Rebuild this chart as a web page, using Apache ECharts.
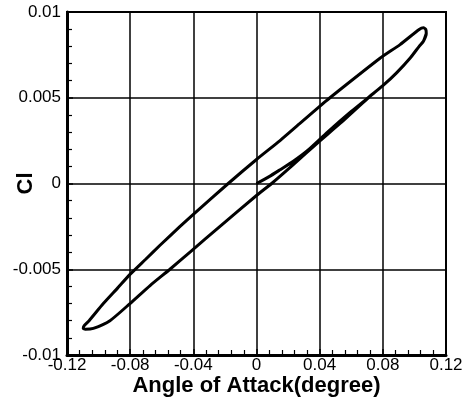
<!DOCTYPE html>
<html><head><meta charset="utf-8">
<script src="https://cdn.jsdelivr.net/npm/echarts@6/dist/echarts.min.js"></script>
<style>html,body{margin:0;padding:0;background:#fff}#c{width:470px;height:399px}</style>
</head><body><div id="c"></div>
<script>
// Tick labels
const xTickLabels = ['-0.12', '-0.08', '-0.04', '0', '0.04', '0.08', '0.12'];
const yTickLabels = ['-0.01', '-0.005', '0', '0.005', '0.01'];

// Transient: starts at origin and merges into lower branch
const transientAlpha = [0.0, 0.008, 0.0149, 0.0233, 0.032, 0.045, 0.060, 0.072, 0.080, 0.0887];
const transientCl    = [0.0, 0.0004, 0.0008, 0.0013, 0.0019, 0.0030, 0.0042, 0.0051, 0.0057, 0.00645];

// Right tip -> upper branch (decreasing alpha) -> left tip
const upperAlpha = [0.0972, 0.1030, 0.1057, 0.1075, 0.1072, 0.1057, 0.1030, 0.0909, 0.0782, 0.0465, 0.040, 0.0275, 0.0149, 0.0, -0.0179, -0.040, -0.0484, -0.0611, -0.0700, -0.0801, -0.0880, -0.0970, -0.1060, -0.1092, -0.1097];
const upperCl    = [0.0073, 0.0080, 0.0083, 0.00875, 0.00898, 0.00908, 0.00898, 0.0081, 0.0073, 0.0050, 0.0045, 0.0035, 0.0025, 0.0014, 0.0000, -0.0018, -0.0025, -0.0036, -0.0044, -0.0053, -0.0061, -0.0070, -0.0080, -0.0083, -0.00845];

// Lower branch (increasing alpha) back to right tip
const lowerAlpha = [-0.1085, -0.1033, -0.0928, -0.0801, -0.0674, -0.0548, -0.0421, -0.0231, 0.0, 0.0096, 0.0233, 0.0391, 0.0529, 0.0708, 0.080, 0.0887, 0.0972, 0.1030, 0.1057, 0.1075];
const lowerCl    = [-0.0085, -0.00845, -0.0080, -0.0070, -0.00595, -0.0050, -0.0040, -0.0025, -0.0007, 0.0, 0.0011, 0.0024, 0.0035, 0.0050, 0.0057, 0.00645, 0.0073, 0.0080, 0.0083, 0.00875];

const pts = [];
transientAlpha.forEach((a, i) => pts.push([a, transientCl[i]]));
upperAlpha.forEach((a, i) => pts.push([a, upperCl[i]]));
lowerAlpha.forEach((a, i) => pts.push([a, lowerCl[i]]));

const font = 'Liberation Sans, Arial, Helvetica, sans-serif';
const chart = echarts.init(document.getElementById('c'), null, {renderer: 'canvas'});
chart.setOption({
  animation: false,
  backgroundColor: '#fff',
  grid: {left: 67, right: 24, top: 12, bottom: 44, containLabel: false, outerBoundsMode: 'none',
         show: true, borderColor: '#000', borderWidth: 2, backgroundColor: 'transparent'},
  xAxis: {
    type: 'value', min: -0.12, max: 0.12, interval: 0.04,
    name: 'Angle of Attack(degree)', nameLocation: 'middle', nameGap: 20, nameMoveOverlap: false,
    nameTextStyle: {fontFamily: font, fontSize: 22, fontWeight: 'bold', color: '#000', verticalAlign: 'top'},
    axisLine: {show: true, onZero: false, lineStyle: {color: '#000', width: 3}},
    axisTick: {show: true, inside: true, length: 6, lineStyle: {color: '#000', width: 1.5}},
    minorTick: {show: true, splitNumber: 5, length: 5, lineStyle: {color: '#000', width: 1.2}},
    splitLine: {show: true, lineStyle: {color: '#000', width: 1.5}},
    axisLabel: {fontFamily: font, fontSize: 17, color: '#000', margin: 2,
      formatter: v => xTickLabels[Math.round((v + 0.12) / 0.04)]}
  },
  yAxis: {
    type: 'value', min: -0.01, max: 0.01, interval: 0.005,
    name: 'Cl', nameLocation: 'middle', nameGap: 30, nameRotate: 90, nameMoveOverlap: false,
    nameTextStyle: {fontFamily: font, fontSize: 22, fontWeight: 'bold', color: '#000'},
    axisLine: {show: true, onZero: false, lineStyle: {color: '#000', width: 3}},
    axisTick: {show: true, inside: true, length: 6, lineStyle: {color: '#000', width: 1.5}},
    minorTick: {show: true, splitNumber: 5, length: 5, lineStyle: {color: '#000', width: 1.2}},
    splitLine: {show: true, lineStyle: {color: '#000', width: 1.5}},
    axisLabel: {fontFamily: font, fontSize: 17, color: '#000', margin: 6,
      formatter: v => yTickLabels[Math.round((v + 0.01) / 0.005)]}
  },
  series: [{
    type: 'line', data: pts, showSymbol: false, smooth: 0.2,
    lineStyle: {color: '#000', width: 3}, clip: false
  }]
});
</script></body></html>
